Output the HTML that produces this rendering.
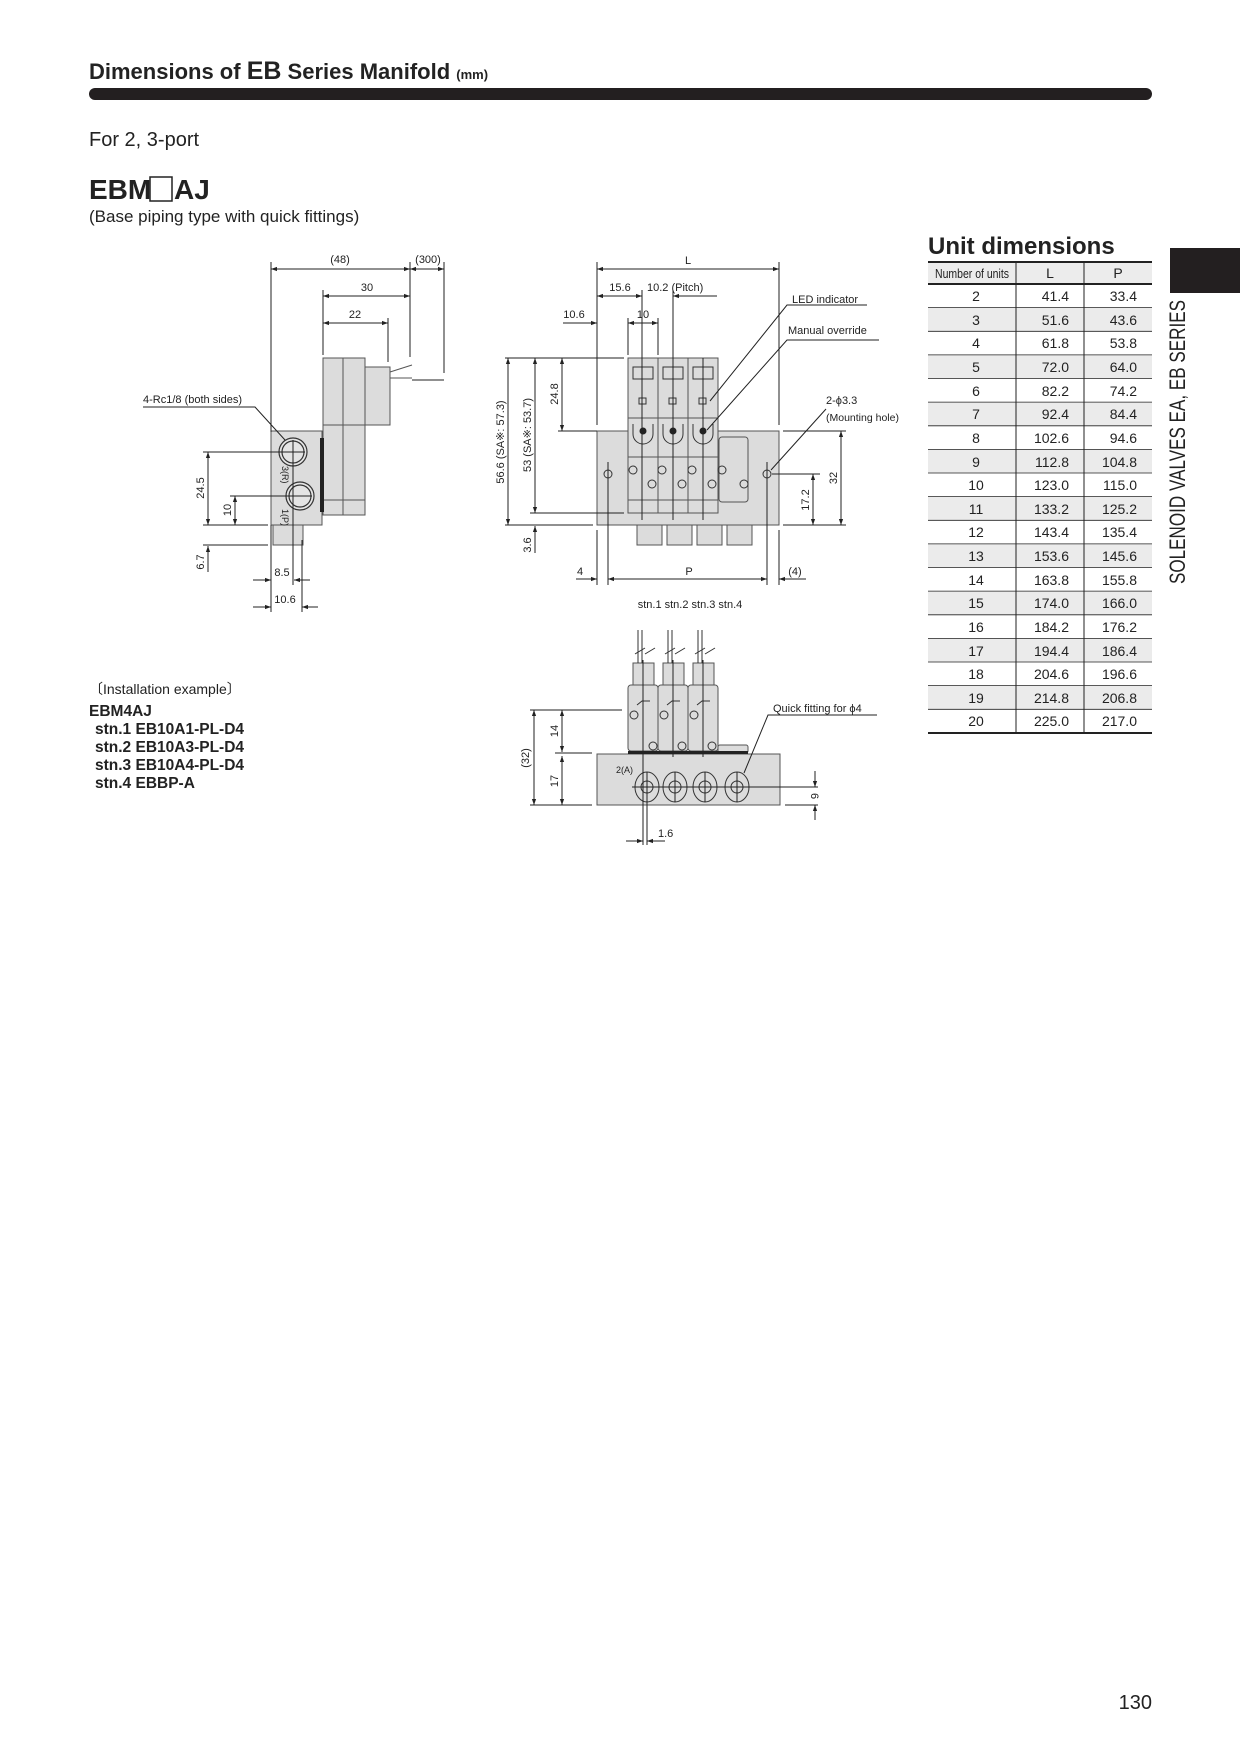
<!DOCTYPE html>
<html><head><meta charset="utf-8"><style>
body{margin:0;background:#fff}
svg{display:block}
text{font-family:"Liberation Sans",sans-serif;fill:#222}
</style></head><body>
<svg width="1240" height="1752" viewBox="0 0 1240 1752" xmlns="http://www.w3.org/2000/svg">
<defs>
<marker id="a" viewBox="0 0 10 10" refX="10" refY="5" markerWidth="8" markerHeight="6" orient="auto-start-reverse"><path d="M0,1.5 L10,5 L0,8.5z" fill="#222"/></marker>
</defs>
<!-- header -->
<text x="89" y="79" font-size="22" font-weight="bold">Dimensions of <tspan font-size="25">EB</tspan> Series Manifold <tspan font-size="13">(mm)</tspan></text>
<rect x="89" y="88" width="1063" height="12" rx="6" fill="#231f20"/>
<text x="89" y="146" font-size="20">For 2, 3-port</text>
<text x="89" y="199" font-size="28" font-weight="bold">EBM</text>
<rect x="150" y="177" width="22" height="24" fill="none" stroke="#222" stroke-width="1.5"/>
<text x="174" y="199" font-size="28" font-weight="bold">AJ</text>
<text x="89" y="222" font-size="17">(Base piping type with quick fittings)</text>

<!-- right tab -->
<rect x="1170" y="248" width="70" height="45" fill="#231f20"/>
<text transform="translate(1185,584) rotate(-90)" font-size="22" textLength="284" lengthAdjust="spacingAndGlyphs">SOLENOID VALVES EA, EB SERIES</text>

<!-- table -->
<text x="928" y="254" font-size="24" font-weight="bold">Unit dimensions</text>
<g id="tbl">
<rect x="928" y="262" width="224" height="22" fill="#ececec"/>
<g fill="#ebebeb">
<rect x="928" y="307.6" width="224" height="23.6"/><rect x="928" y="354.9" width="224" height="23.6"/><rect x="928" y="402.1" width="224" height="23.6"/><rect x="928" y="449.4" width="224" height="23.6"/><rect x="928" y="496.6" width="224" height="23.6"/><rect x="928" y="543.9" width="224" height="23.6"/><rect x="928" y="591.1" width="224" height="23.6"/><rect x="928" y="638.4" width="224" height="23.6"/><rect x="928" y="685.6" width="224" height="23.6"/>
</g>
<line x1="928" y1="262" x2="1152" y2="262" stroke="#222" stroke-width="2"/>
<line x1="928" y1="284" x2="1152" y2="284" stroke="#222" stroke-width="2"/>
<line x1="928" y1="733" x2="1152" y2="733" stroke="#222" stroke-width="2"/>
<line x1="1016" y1="262" x2="1016" y2="733" stroke="#222"/>
<line x1="1084" y1="262" x2="1084" y2="733" stroke="#222"/>
<g stroke="#222" stroke-width="0.8">
<line x1="928" y1="307.6" x2="1152" y2="307.6"/><line x1="928" y1="331.3" x2="1152" y2="331.3"/><line x1="928" y1="354.9" x2="1152" y2="354.9"/><line x1="928" y1="378.5" x2="1152" y2="378.5"/><line x1="928" y1="402.1" x2="1152" y2="402.1"/><line x1="928" y1="425.8" x2="1152" y2="425.8"/><line x1="928" y1="449.4" x2="1152" y2="449.4"/><line x1="928" y1="473" x2="1152" y2="473"/><line x1="928" y1="496.6" x2="1152" y2="496.6"/><line x1="928" y1="520.3" x2="1152" y2="520.3"/><line x1="928" y1="543.9" x2="1152" y2="543.9"/><line x1="928" y1="567.5" x2="1152" y2="567.5"/><line x1="928" y1="591.1" x2="1152" y2="591.1"/><line x1="928" y1="614.8" x2="1152" y2="614.8"/><line x1="928" y1="638.4" x2="1152" y2="638.4"/><line x1="928" y1="662" x2="1152" y2="662"/><line x1="928" y1="685.6" x2="1152" y2="685.6"/><line x1="928" y1="709.3" x2="1152" y2="709.3"/>
</g>
<text x="972" y="278" font-size="13" text-anchor="middle" textLength="74" lengthAdjust="spacingAndGlyphs">Number of units</text>
<text x="1050" y="278" font-size="14" text-anchor="middle">L</text>
<text x="1118" y="278" font-size="14" text-anchor="middle">P</text>
<g font-size="14">
<text x="976" y="301" text-anchor="middle">2</text><text x="1069" y="301" text-anchor="end">41.4</text><text x="1137" y="301" text-anchor="end">33.4</text>
<text x="976" y="325" text-anchor="middle">3</text><text x="1069" y="325" text-anchor="end">51.6</text><text x="1137" y="325" text-anchor="end">43.6</text>
<text x="976" y="348" text-anchor="middle">4</text><text x="1069" y="348" text-anchor="end">61.8</text><text x="1137" y="348" text-anchor="end">53.8</text>
<text x="976" y="372" text-anchor="middle">5</text><text x="1069" y="372" text-anchor="end">72.0</text><text x="1137" y="372" text-anchor="end">64.0</text>
<text x="976" y="396" text-anchor="middle">6</text><text x="1069" y="396" text-anchor="end">82.2</text><text x="1137" y="396" text-anchor="end">74.2</text>
<text x="976" y="419" text-anchor="middle">7</text><text x="1069" y="419" text-anchor="end">92.4</text><text x="1137" y="419" text-anchor="end">84.4</text>
<text x="976" y="443" text-anchor="middle">8</text><text x="1069" y="443" text-anchor="end">102.6</text><text x="1137" y="443" text-anchor="end">94.6</text>
<text x="976" y="467" text-anchor="middle">9</text><text x="1069" y="467" text-anchor="end">112.8</text><text x="1137" y="467" text-anchor="end">104.8</text>
<text x="976" y="490" text-anchor="middle">10</text><text x="1069" y="490" text-anchor="end">123.0</text><text x="1137" y="490" text-anchor="end">115.0</text>
<text x="976" y="514" text-anchor="middle">11</text><text x="1069" y="514" text-anchor="end">133.2</text><text x="1137" y="514" text-anchor="end">125.2</text>
<text x="976" y="537" text-anchor="middle">12</text><text x="1069" y="537" text-anchor="end">143.4</text><text x="1137" y="537" text-anchor="end">135.4</text>
<text x="976" y="561" text-anchor="middle">13</text><text x="1069" y="561" text-anchor="end">153.6</text><text x="1137" y="561" text-anchor="end">145.6</text>
<text x="976" y="585" text-anchor="middle">14</text><text x="1069" y="585" text-anchor="end">163.8</text><text x="1137" y="585" text-anchor="end">155.8</text>
<text x="976" y="608" text-anchor="middle">15</text><text x="1069" y="608" text-anchor="end">174.0</text><text x="1137" y="608" text-anchor="end">166.0</text>
<text x="976" y="632" text-anchor="middle">16</text><text x="1069" y="632" text-anchor="end">184.2</text><text x="1137" y="632" text-anchor="end">176.2</text>
<text x="976" y="656" text-anchor="middle">17</text><text x="1069" y="656" text-anchor="end">194.4</text><text x="1137" y="656" text-anchor="end">186.4</text>
<text x="976" y="679" text-anchor="middle">18</text><text x="1069" y="679" text-anchor="end">204.6</text><text x="1137" y="679" text-anchor="end">196.6</text>
<text x="976" y="703" text-anchor="middle">19</text><text x="1069" y="703" text-anchor="end">214.8</text><text x="1137" y="703" text-anchor="end">206.8</text>
<text x="976" y="726" text-anchor="middle">20</text><text x="1069" y="726" text-anchor="end">225.0</text><text x="1137" y="726" text-anchor="end">217.0</text>
</g>
</g>

<!-- LEFT drawing -->
<g stroke="#555" stroke-width="1" fill="#dcdcdc">
<rect x="323" y="358" width="42" height="157"/>
<line x1="323" y1="425" x2="365" y2="425"/>
<line x1="323" y1="500" x2="365" y2="500"/>
<line x1="343" y1="358" x2="343" y2="515"/>
<rect x="365" y="367" width="25" height="58"/>
<path d="M390,372 L412,365 M390,378 L412,378" fill="none"/>
<rect x="271" y="431" width="51" height="94"/>
<rect x="273" y="525" width="30" height="20"/>
</g>
<rect x="320" y="438" width="4" height="74" fill="#222"/>
<g stroke="#333" fill="#e4e4e4" stroke-width="1.2">
<circle cx="293" cy="452" r="14"/><circle cx="293" cy="452" r="11" fill="none"/>
<circle cx="300" cy="496" r="14"/><circle cx="300" cy="496" r="11" fill="none"/>
</g>
<text x="278" y="470" font-size="9" transform="rotate(90,282,470)">3(R)</text>
<text x="278" y="513" font-size="9" transform="rotate(90,282,513)">1(P)</text>
<g stroke="#222" stroke-width="1" fill="none">
<line x1="412" y1="380" x2="444" y2="380"/>
<line x1="271" y1="262" x2="271" y2="432"/>
<line x1="410" y1="262" x2="410" y2="357"/>
<line x1="444" y1="262" x2="444" y2="373"/>
<line x1="323" y1="290" x2="323" y2="355"/>
<line x1="388" y1="318" x2="388" y2="362"/>
<line x1="271" y1="269" x2="410" y2="269" marker-start="url(#a)" marker-end="url(#a)"/>
<line x1="410" y1="269" x2="444" y2="269" marker-start="url(#a)" marker-end="url(#a)"/>
<line x1="323" y1="296" x2="410" y2="296" marker-start="url(#a)" marker-end="url(#a)"/>
<line x1="323" y1="323" x2="388" y2="323" marker-start="url(#a)" marker-end="url(#a)"/>
<line x1="203" y1="452" x2="305" y2="452"/>
<line x1="230" y1="496" x2="312" y2="496"/>
<line x1="203" y1="525" x2="268" y2="525"/>
<line x1="203" y1="545" x2="268" y2="545"/>
<line x1="293" y1="440" x2="293" y2="585"/>
<line x1="271" y1="525" x2="271" y2="612"/>
<line x1="302" y1="540" x2="302" y2="612"/>
<line x1="208" y1="452" x2="208" y2="525" marker-start="url(#a)" marker-end="url(#a)"/>
<line x1="235" y1="496" x2="235" y2="525" marker-start="url(#a)" marker-end="url(#a)"/>
<line x1="208" y1="548" x2="208" y2="572"/>
<line x1="208" y1="560" x2="208" y2="546" marker-end="url(#a)"/>
<line x1="253" y1="580" x2="271" y2="580" marker-end="url(#a)"/>
<line x1="310" y1="580" x2="294" y2="580" marker-end="url(#a)"/>
<line x1="253" y1="607" x2="271" y2="607" marker-end="url(#a)"/>
<line x1="318" y1="607" x2="302" y2="607" marker-end="url(#a)"/>
<polyline points="143,407 255,407 285,440"/>
</g>
<g font-size="11">
<text x="340" y="263" text-anchor="middle">(48)</text>
<text x="428" y="263" text-anchor="middle">(300)</text>
<text x="367" y="291" text-anchor="middle">30</text>
<text x="355" y="318" text-anchor="middle">22</text>
<text x="143" y="403">4-Rc1/8 (both sides)</text>
<text transform="translate(204,488) rotate(-90)" text-anchor="middle">24.5</text>
<text transform="translate(231,510) rotate(-90)" text-anchor="middle">10</text>
<text transform="translate(204,562) rotate(-90)" text-anchor="middle">6.7</text>
<text x="282" y="576" text-anchor="middle">8.5</text>
<text x="285" y="603" text-anchor="middle">10.6</text>
</g>

<!-- MIDDLE drawing -->
<g stroke="#555" stroke-width="1" fill="#dcdcdc">
<rect x="597" y="431" width="182" height="94"/>
<rect x="719" y="437" width="29" height="65" rx="3"/>
<rect x="628" y="358" width="30" height="155"/><rect x="658" y="358" width="30" height="155"/><rect x="688" y="358" width="30" height="155"/>
<line x1="628" y1="418" x2="718" y2="418"/><line x1="628" y1="457" x2="718" y2="457"/><line x1="628" y1="500" x2="718" y2="500"/>
<rect x="637" y="525" width="25" height="20"/><rect x="667" y="525" width="25" height="20"/><rect x="697" y="525" width="25" height="20"/><rect x="727" y="525" width="25" height="20"/>
</g>
<g stroke="#333" fill="none" stroke-width="1">
<rect x="633" y="367" width="20" height="12"/><rect x="663" y="367" width="20" height="12"/><rect x="693" y="367" width="20" height="12"/>
<rect x="639" y="398" width="7" height="6"/><rect x="669" y="398" width="7" height="6"/><rect x="699" y="398" width="7" height="6"/>
<path d="M633,424 v10 a10,10 0 0 0 20,0 v-10"/><path d="M663,424 v10 a10,10 0 0 0 20,0 v-10"/><path d="M693,424 v10 a10,10 0 0 0 20,0 v-10"/>
<circle cx="633" cy="470" r="4"/><circle cx="652" cy="484" r="4"/><circle cx="662" cy="470" r="4"/><circle cx="682" cy="484" r="4"/><circle cx="692" cy="470" r="4"/><circle cx="712" cy="484" r="4"/><circle cx="722" cy="470" r="4"/><circle cx="744" cy="484" r="4"/>
<circle cx="608" cy="474" r="4"/><circle cx="767" cy="474" r="4"/>
</g>
<g fill="#222"><circle cx="643" cy="431" r="3.5"/><circle cx="673" cy="431" r="3.5"/><circle cx="703" cy="431" r="3.5"/></g>
<g stroke="#222" stroke-width="1" fill="none">
<line x1="597" y1="262" x2="597" y2="425"/><line x1="779" y1="262" x2="779" y2="425"/>
<line x1="597" y1="530" x2="597" y2="585"/><line x1="779" y1="530" x2="779" y2="585"/>
<line x1="642" y1="290" x2="642" y2="520"/><line x1="673" y1="290" x2="673" y2="520"/><line x1="703" y1="358" x2="703" y2="520"/>
<line x1="628" y1="318" x2="628" y2="355"/><line x1="658" y1="318" x2="658" y2="355"/>
<line x1="608" y1="462" x2="608" y2="585"/><line x1="767" y1="462" x2="767" y2="585"/>
<line x1="597" y1="269" x2="779" y2="269" marker-start="url(#a)" marker-end="url(#a)"/>
<line x1="597" y1="296" x2="642" y2="296" marker-start="url(#a)" marker-end="url(#a)"/>
<line x1="717" y1="296" x2="673" y2="296" marker-end="url(#a)"/>
<line x1="563" y1="323" x2="597" y2="323" marker-end="url(#a)"/>
<line x1="628" y1="323" x2="658" y2="323" marker-start="url(#a)" marker-end="url(#a)"/>
<line x1="505" y1="358" x2="624" y2="358"/>
<line x1="558" y1="431" x2="597" y2="431"/>
<line x1="530" y1="513" x2="624" y2="513"/>
<line x1="505" y1="525" x2="593" y2="525"/>
<line x1="508" y1="358" x2="508" y2="525" marker-start="url(#a)" marker-end="url(#a)"/>
<line x1="535" y1="358" x2="535" y2="513" marker-start="url(#a)" marker-end="url(#a)"/>
<line x1="562" y1="358" x2="562" y2="431" marker-start="url(#a)" marker-end="url(#a)"/>
<line x1="535" y1="553" x2="535" y2="526" marker-end="url(#a)"/>
<line x1="783" y1="431" x2="846" y2="431"/><line x1="783" y1="525" x2="846" y2="525"/><line x1="772" y1="474" x2="820" y2="474"/>
<line x1="841" y1="431" x2="841" y2="525" marker-start="url(#a)" marker-end="url(#a)"/>
<line x1="813" y1="474" x2="813" y2="525" marker-start="url(#a)" marker-end="url(#a)"/>
<line x1="608" y1="579" x2="767" y2="579" marker-start="url(#a)" marker-end="url(#a)"/>
<line x1="576" y1="579" x2="597" y2="579" marker-end="url(#a)"/>
<line x1="806" y1="579" x2="779" y2="579" marker-end="url(#a)"/>
<polyline points="867,305 787,305 710,401"/>
<polyline points="879,340 787,340 707,430"/>
<polyline points="826,409 771,470"/>
</g>
<g font-size="11">
<text x="688" y="264" text-anchor="middle">L</text>
<text x="620" y="291" text-anchor="middle">15.6</text>
<text x="647" y="291">10.2 (Pitch)</text>
<text x="574" y="318" text-anchor="middle">10.6</text>
<text x="643" y="318" text-anchor="middle">10</text>
<text x="792" y="303">LED indicator</text>
<text x="788" y="334">Manual override</text>
<text x="826" y="404">2-ϕ3.3</text>
<text x="826" y="421" font-size="10.5">(Mounting hole)</text>
<text transform="translate(504,442) rotate(-90)" text-anchor="middle">56.6 (SA※: 57.3)</text>
<text transform="translate(531,435) rotate(-90)" text-anchor="middle">53 (SA※: 53.7)</text>
<text transform="translate(558,394) rotate(-90)" text-anchor="middle">24.8</text>
<text transform="translate(531,545) rotate(-90)" text-anchor="middle">3.6</text>
<text transform="translate(837,478) rotate(-90)" text-anchor="middle">32</text>
<text transform="translate(809,500) rotate(-90)" text-anchor="middle">17.2</text>
<text x="689" y="575" text-anchor="middle">P</text>
<text x="580" y="575" text-anchor="middle">4</text>
<text x="795" y="575" text-anchor="middle">(4)</text>
<text x="690" y="608" text-anchor="middle">stn.1 stn.2 stn.3 stn.4</text>
</g>

<!-- BOTTOM drawing -->
<text x="89" y="694" font-size="14">〔Installation example〕</text>
<g font-size="15.5" font-weight="bold">
<text x="89" y="716">EBM4AJ</text>
<text x="95" y="734">stn.1  EB10A1-PL-D4</text>
<text x="95" y="752">stn.2  EB10A3-PL-D4</text>
<text x="95" y="770">stn.3  EB10A4-PL-D4</text>
<text x="95" y="788">stn.4  EBBP-A</text>
</g>
<g stroke="#555" stroke-width="1" fill="#dcdcdc">
<rect x="597" y="754" width="183" height="51"/>
<rect x="628" y="685" width="30" height="66" rx="3"/><rect x="658" y="685" width="30" height="66" rx="3"/><rect x="688" y="685" width="30" height="66" rx="3"/>
<rect x="633" y="663" width="21" height="22"/><rect x="663" y="663" width="21" height="22"/><rect x="693" y="663" width="21" height="22"/>
<rect x="718" y="745" width="30" height="8" rx="2"/>
</g>
<rect x="628" y="751" width="120" height="3" fill="#222"/>
<g stroke="#333" fill="none" stroke-width="1">
<path d="M638,630 v33 M642,630 v33 M668,630 v33 M672,630 v33 M698,630 v33 M702,630 v33"/>
<path d="M635,654 l10,-6 M645,654 l10,-6 M665,654 l10,-6 M675,654 l10,-6 M695,654 l10,-6 M705,654 l10,-6"/>
<ellipse cx="647" cy="787" rx="12" ry="15"/><circle cx="647" cy="787" r="6"/>
<ellipse cx="675" cy="787" rx="12" ry="15"/><circle cx="675" cy="787" r="6"/>
<ellipse cx="705" cy="787" rx="12" ry="15"/><circle cx="705" cy="787" r="6"/>
<ellipse cx="737" cy="787" rx="12" ry="15"/><circle cx="737" cy="787" r="6"/>
<circle cx="634" cy="715" r="4"/><circle cx="664" cy="715" r="4"/><circle cx="694" cy="715" r="4"/>
<circle cx="653" cy="746" r="4"/><circle cx="682" cy="746" r="4"/><circle cx="712" cy="746" r="4"/>
<path d="M637,705 l5,-4 h8 M667,705 l5,-4 h8 M697,705 l5,-4 h8"/>
</g>
<g stroke="#222" stroke-width="1" fill="none">
<line x1="643" y1="660" x2="643" y2="845"/>
<line x1="673" y1="660" x2="673" y2="757"/><line x1="703" y1="660" x2="703" y2="757"/>
<line x1="675" y1="772" x2="675" y2="802"/><line x1="705" y1="772" x2="705" y2="802"/><line x1="737" y1="772" x2="737" y2="802"/><line x1="647" y1="772" x2="647" y2="845"/>
<line x1="530" y1="710" x2="622" y2="710"/>
<line x1="555" y1="753" x2="592" y2="753"/>
<line x1="530" y1="805" x2="592" y2="805"/>
<line x1="534" y1="710" x2="534" y2="805" marker-start="url(#a)" marker-end="url(#a)"/>
<line x1="562" y1="710" x2="562" y2="752" marker-start="url(#a)" marker-end="url(#a)"/>
<line x1="562" y1="756" x2="562" y2="805" marker-start="url(#a)" marker-end="url(#a)"/>
<line x1="632" y1="787" x2="818" y2="787"/>
<line x1="785" y1="805" x2="818" y2="805"/>
<line x1="815" y1="771" x2="815" y2="787" marker-end="url(#a)"/>
<line x1="815" y1="820" x2="815" y2="805" marker-end="url(#a)"/>
<line x1="626" y1="841" x2="643" y2="841" marker-end="url(#a)"/>
<line x1="665" y1="841" x2="647" y2="841" marker-end="url(#a)"/>
<polyline points="877,715 768,715 744,773"/>
</g>
<g font-size="11">
<text transform="translate(529,758) rotate(-90)" text-anchor="middle">(32)</text>
<text transform="translate(558,731) rotate(-90)" text-anchor="middle">14</text>
<text transform="translate(558,781) rotate(-90)" text-anchor="middle">17</text>
<text transform="translate(811,796) rotate(90)" text-anchor="middle">6</text>
<text x="658" y="837">1.6</text>
<text x="616" y="773" font-size="9">2(A)</text>
<text x="773" y="712">Quick fitting for ϕ4</text>
</g>

<text x="1152" y="1709" font-size="20" text-anchor="end">130</text>
</svg>
</body></html>
